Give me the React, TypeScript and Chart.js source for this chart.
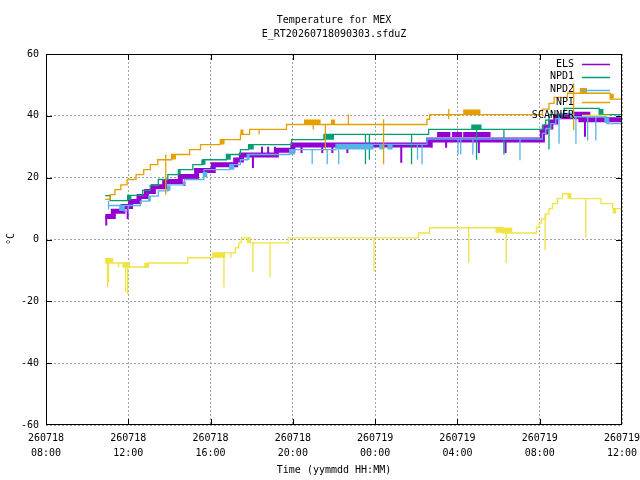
import { useEffect, useRef } from "react";
import { Chart, registerables } from "chart.js";

Chart.register(...registerables);

// time axis is hours after 260718 08:00
const xTickDates = ["260718", "260718", "260718", "260718", "260719", "260719", "260719", "260719"];
const xTickTimes = ["08:00", "12:00", "16:00", "20:00", "00:00", "04:00", "08:00", "12:00"];
const seriesNames = ["ELS", "NPD1", "NPD2", "NPI", "SCANNER"];
const seriesColors = ["#9400d3", "#009e73", "#56b4e9", "#e69f00", "#f0e442"];

// [hour, °C] step points (value held until next point)
const elsSteps = [
  [2.88, 7.4], [3.27, 9.1], [3.74, 10.7], [4.11, 12.3], [4.52, 13.9], [4.88, 15.5], [5.22, 17.1],
  [5.77, 18.8], [6.53, 20.4], [7.32, 22.3], [8.13, 24.2], [9.22, 25.7], [9.5, 27.3], [11.2, 28.9],
  [12.0, 30.6], [18.6, 32.2], [24.13, 34.8], [24.29, 36.4], [24.54, 38.0], [24.78, 39.7],
  [26.0, 38.7], [28, 38.7],
];
const npd1Steps = [
  [2.88, 14.2], [3.12, 12.6], [3.97, 14.3], [4.7, 15.9], [5.07, 17.5], [5.46, 19.4], [5.92, 21.0],
  [6.45, 22.6], [7.14, 24.2], [7.62, 25.8], [8.77, 27.5], [9.45, 29.1], [9.85, 30.7], [11.94, 32.3],
  [13.51, 34.0], [18.6, 35.6], [24.13, 37.0], [24.29, 38.6], [24.45, 40.4], [25.19, 42.4],
  [26.89, 40.4], [28, 40.4],
];
const npd2Steps = [
  [3.04, 11.0], [4.59, 12.4], [5.0, 14.0], [5.46, 15.7], [5.93, 17.7], [6.73, 19.4], [7.68, 22.6],
  [8.93, 24.2], [9.45, 25.8], [9.79, 27.5], [11.85, 29.1], [14.1, 30.8], [18.52, 32.5],
  [24.13, 34.3], [24.29, 35.9], [24.54, 37.5], [24.78, 39.1], [25.02, 40.8], [25.55, 39.7],
  [27.25, 37.5], [28, 37.5],
];
const npiSteps = [
  [2.88, 13.0], [3.12, 14.5], [3.35, 16.1], [3.64, 17.7], [3.94, 19.4], [4.38, 21.0], [4.75, 22.6],
  [5.07, 24.2], [5.43, 25.8], [6.11, 27.5], [6.98, 29.1], [7.51, 30.7], [8.47, 32.3], [9.45, 34.0],
  [9.9, 35.6], [11.69, 37.2], [18.52, 38.9], [18.65, 40.4], [24.13, 42.2], [24.45, 44.0],
  [24.7, 46.0], [25.35, 47.3], [27.43, 45.4], [28, 45.4],
];
const scannerSteps = [
  [2.88, -7.6], [4.05, -8.9], [4.98, -7.6], [6.89, -5.9], [8.11, -4.3], [9.2, -2.7], [9.37, -1.1],
  [9.5, 0.55], [9.94, -1.1], [11.77, 0.55], [18.11, 2.1], [18.65, 3.8], [22.2, 2.1], [23.84, 4.0],
  [23.97, 5.3], [24.08, 6.7], [24.29, 8.3], [24.45, 10.0], [24.62, 11.6], [24.86, 13.2],
  [25.11, 14.8], [25.51, 13.2], [26.98, 11.6], [27.55, 10.0], [28, 10.0],
];

// [from hour, to hour, centre °C] stretches where the reading flickers between two steps
const elsBands = [[19.01, 19.66, 34.0], [19.74, 20.23, 34.0], [20.28, 21.61, 34.0], [25.64, 26.46, 40.5]];
const npd1Bands = [
  [3.97, 4.15, 13.5], [6.4, 6.55, 21.8], [7.55, 7.75, 25.0], [8.77, 8.98, 26.6], [9.85, 10.1, 29.9],
  [13.51, 14.0, 33.1], [20.67, 21.17, 36.4], [26.89, 27.1, 41.4],
];
const npd2Bands = [
  [3.56, 3.8, 10.0], [4.98, 5.1, 13.2], [5.89, 6.05, 16.6], [7.62, 7.84, 21.0], [8.93, 9.15, 23.4],
  [9.79, 9.9, 26.6], [11.85, 12.1, 28.3], [14.13, 15.92, 29.95], [16.2, 16.45, 29.95],
  [16.6, 16.85, 29.95], [25.43, 25.67, 40.2], [27.14, 27.38, 38.6],
];
const npiBands = [
  [6.11, 6.3, 26.7], [8.47, 8.68, 31.5], [9.45, 9.6, 34.8], [12.54, 13.35, 38.0], [13.85, 14.05, 38.0],
  [20.28, 21.12, 41.2], [25.95, 26.3, 48.2], [27.41, 27.6, 46.3],
];
const scannerBands = [
  [2.88, 3.27, -6.8], [3.72, 4.05, -8.3], [4.78, 4.98, -8.3], [8.11, 8.72, -5.1], [9.77, 9.94, -0.3],
  [21.85, 22.67, 3.0], [25.35, 25.51, 14.0], [27.55, 27.71, 9.2],
];

// [hour, top °C, bottom °C] single-sample glitches
const elsSpikes = [
  [2.93, 7.4, 4.5], [3.97, 11.0, 6.6], [6.73, 18.8, 17.3], [10.06, 27.3, 23.1], [10.5, 30.0, 27.3],
  [10.8, 30.0, 27.3], [11.13, 30.0, 27.3], [12.42, 30.6, 28.0], [13.43, 30.6, 28.0], [13.92, 30.6, 28.0],
  [14.65, 30.6, 28.0], [17.27, 30.6, 24.8], [18.75, 32.2, 29.7], [19.45, 32.2, 29.7], [21.04, 32.2, 28.0],
  [22.34, 32.2, 28.0], [26.2, 39.7, 33.2],
];
const npd1Spikes = [
  [15.53, 34.0, 24.3], [15.72, 34.0, 25.8], [17.77, 34.0, 24.3], [20.93, 35.6, 25.8],
  [22.26, 35.6, 27.5], [24.45, 38.6, 29.1],
];
const npd2Spikes = [
  [3.04, 12.6, 9.7], [3.8, 11.0, 9.0], [4.0, 11.0, 9.0], [12.94, 29.1, 24.3], [13.67, 29.1, 24.3],
  [14.23, 29.1, 24.3], [18.06, 30.8, 25.8], [18.28, 30.8, 24.3], [20.03, 32.5, 27.5],
  [20.16, 32.5, 27.5], [20.75, 32.5, 27.5], [23.04, 32.5, 25.6], [24.94, 40.8, 31.0],
  [25.76, 39.7, 31.0], [26.33, 39.7, 32.0], [26.73, 39.7, 32.0],
];
const npiSpikes = [
  [5.82, 27.5, 14.5], [6.28, 27.5, 26.0], [10.36, 35.6, 34.0], [12.99, 37.2, 35.6], [13.58, 37.2, 28.9],
  [14.7, 40.4, 37.2], [16.41, 38.9, 24.3], [19.58, 42.2, 38.9], [25.65, 50.5, 35.4],
];
const scannerSpikes = [
  [2.99, -5.9, -15.5], [3.04, -5.9, -13.9], [3.53, -7.6, -9.0], [3.87, -7.6, -17.1], [3.97, -7.6, -17.6],
  [8.65, -4.3, -15.5], [8.99, -4.3, -5.9], [10.06, -1.1, -10.6], [10.89, -1.1, -12.2],
  [15.95, 0.55, -10.3], [20.55, 3.8, -7.6], [22.37, 3.8, -7.6], [24.26, 8.3, -3.5], [26.24, 13.2, 0.7],
];

const FONT = "'DejaVu Sans Mono', 'Liberation Mono', monospace";

type P = { x: number; y: number | null };
const stepPts = (s: number[][]): P[] => s.map(([x, y]) => ({ x, y }));
const bandPts = (b: number[][]): P[] =>
  b.flatMap(([x0, x1, y]) => [{ x: x0, y }, { x: x1, y }, { x: x1, y: null }]);
const spikePts = (s: number[][]): P[] =>
  s.flatMap(([x, top, bot]) => [{ x, y: top }, { x, y: bot }, { x, y: null }]);

const allSteps = [elsSteps, npd1Steps, npd2Steps, npiSteps, scannerSteps];
const allBands = [elsBands, npd1Bands, npd2Bands, npiBands, scannerBands];
const allSpikes = [elsSpikes, npd1Spikes, npd2Spikes, npiSpikes, scannerSpikes];

const frame = {
  id: "gnuframe",
  afterDatasetsDraw(chart: Chart) {
    const { ctx, chartArea: a } = chart;
    const x = chart.scales.x;
    const y = chart.scales.y;
    ctx.save();
    ctx.strokeStyle = "#000";
    ctx.lineWidth = 1;
    ctx.strokeRect(a.left + 0.5, a.top + 0.5, a.right - a.left - 1, a.bottom - a.top - 1);
    ctx.beginPath();
    for (let h = 4; h < 28; h += 4) {
      const px = Math.round(x.getPixelForValue(h)) + 0.5;
      ctx.moveTo(px, a.bottom);
      ctx.lineTo(px, a.bottom - 6);
      ctx.moveTo(px, a.top);
      ctx.lineTo(px, a.top + 6);
    }
    for (let t = -40; t <= 40; t += 20) {
      const py = Math.round(y.getPixelForValue(t)) + 0.5;
      ctx.moveTo(a.left, py);
      ctx.lineTo(a.left + 6, py);
      ctx.moveTo(a.right, py);
      ctx.lineTo(a.right - 6, py);
    }
    ctx.stroke();

    // key
    ctx.font = `10px ${FONT}`;
    ctx.fillStyle = "#000";
    ctx.textAlign = "right";
    ctx.textBaseline = "middle";
    seriesNames.forEach((n, i) => {
      const ry = 64 + i * 12.75;
      ctx.fillText(n, 574, ry);
      ctx.strokeStyle = seriesColors[i];
      ctx.lineWidth = 1.5;
      ctx.beginPath();
      ctx.moveTo(582, Math.round(ry) + 0.5);
      ctx.lineTo(610, Math.round(ry) + 0.5);
      ctx.stroke();
    });

    // titles
    ctx.textAlign = "center";
    ctx.fillText("Temperature for MEX", 334, 20);
    ctx.fillText("E_RT20260718090303.sfduZ", 334, 34);
    ctx.fillText("Time (yymmdd HH:MM)", 334, 470);
    ctx.translate(11, 239);
    ctx.rotate(-Math.PI / 2);
    ctx.fillText("°C", 0, 0);
    ctx.restore();
  },
};

export default function App() {
  const ref = useRef<HTMLCanvasElement>(null);

  useEffect(() => {
    if (!ref.current) return;
    const datasets: any[] = [];
    seriesNames.forEach((name, i) => {
      const color = seriesColors[i];
      const order = 50 - i * 10;
      datasets.push({
        label: name,
        data: stepPts(allSteps[i]),
        borderColor: color,
        borderWidth: i === 0 ? 5 : 1.3,
        stepped: "before",
        pointRadius: 0,
        order,
      });
      datasets.push({
        label: name + " flicker",
        data: bandPts(allBands[i]),
        borderColor: color,
        borderWidth: 5,
        borderCapStyle: "butt",
        pointRadius: 0,
        spanGaps: false,
        order,
      });
      datasets.push({
        label: name + " glitch",
        data: spikePts(allSpikes[i]),
        borderColor: color,
        borderWidth: i === 0 ? 2 : 1.3,
        pointRadius: 0,
        spanGaps: false,
        order,
      });
    });

    const chart = new Chart(ref.current, {
      type: "line",
      data: { datasets },
      options: {
        animation: false,
        responsive: false,
        devicePixelRatio: 1,
        layout: { padding: { top: 54, right: 18, left: 0, bottom: 0 } },
        plugins: { legend: { display: false }, tooltip: { enabled: false } },
        scales: {
          x: {
            type: "linear",
            min: 0,
            max: 28,
            ticks: {
              stepSize: 4,
              autoSkip: false,
              maxRotation: 0,
              padding: 6,
              color: "#000",
              font: { family: FONT, size: 10, lineHeight: 1.5 },
              callback: (_v: any, i: number) => [xTickDates[i], xTickTimes[i]],
            },
            grid: { color: "#a0a0a0", drawTicks: false, lineWidth: 1 },
            border: { display: false, dash: [2, 2] },
            afterFit: (s: any) => {
              s.height = 55;
              s.paddingLeft = 0;
              s.paddingRight = 0;
            },
          },
          y: {
            min: -60,
            max: 60,
            ticks: {
              stepSize: 20,
              padding: 7,
              color: "#000",
              font: { family: FONT, size: 10 },
            },
            grid: { color: "#a0a0a0", drawTicks: false, lineWidth: 1 },
            border: { display: false, dash: [2, 2] },
            afterFit: (s: any) => {
              s.width = 46;
              s.paddingTop = 0;
              s.paddingBottom = 0;
            },
          },
        },
      },
      plugins: [frame],
    });
    return () => chart.destroy();
  }, []);

  return (
    <div style={{ position: "absolute", left: 0, top: 0, width: 640, height: 480, background: "#fff" }}>
      <canvas ref={ref} width={640} height={480} style={{ display: "block" }} />
    </div>
  );
}
